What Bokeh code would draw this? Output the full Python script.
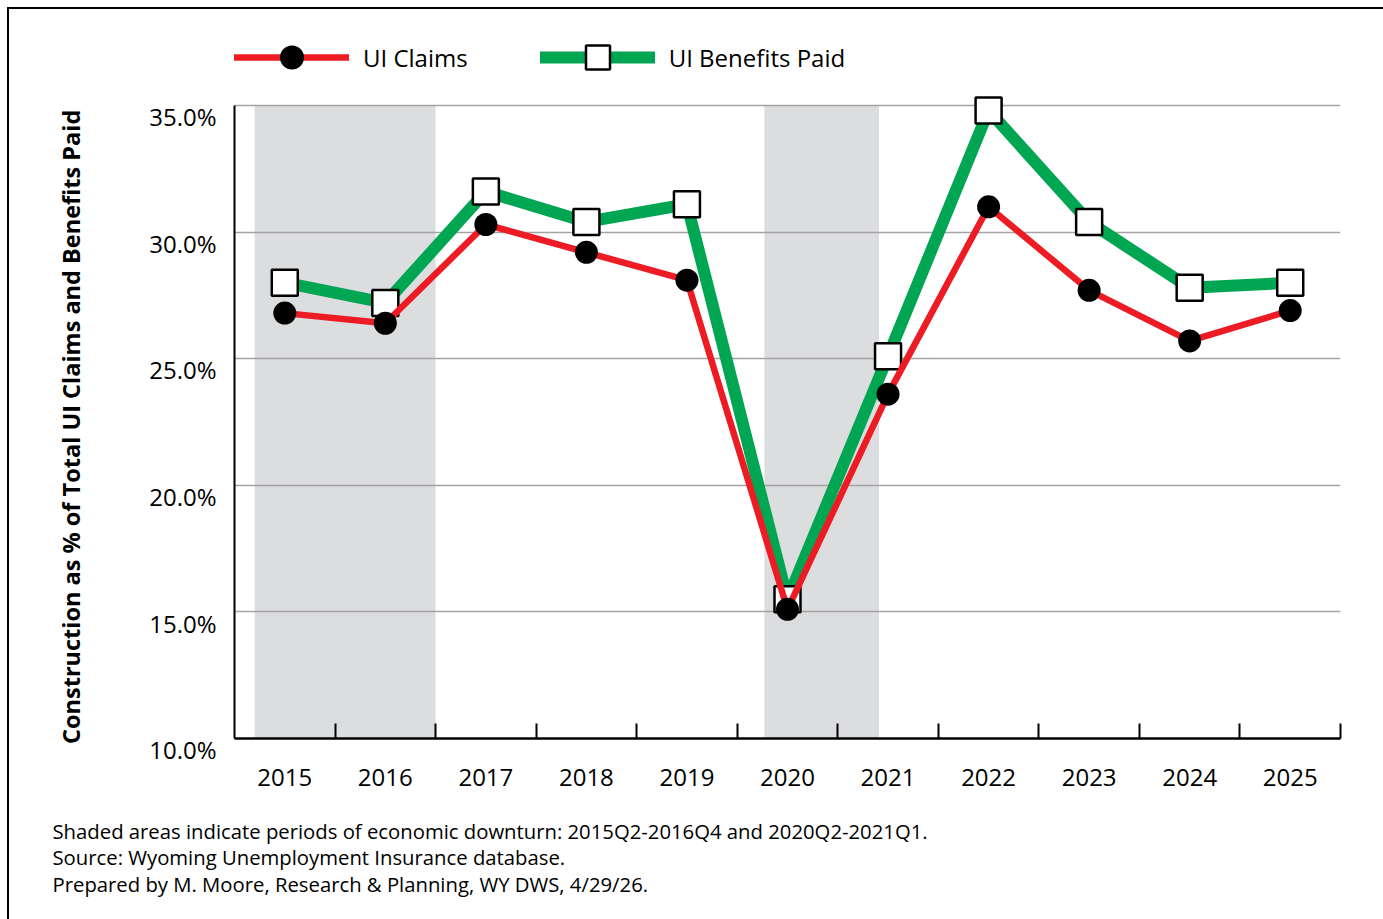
from bokeh.plotting import figure
from bokeh.models import (ColumnDataSource, FixedTicker, Legend, LegendItem, Title, Range1d)
from bokeh.embed import file_html
from bokeh.resources import INLINE

# ---- data ----
years = [2015, 2016, 2017, 2018, 2019, 2020, 2021, 2022, 2023, 2024, 2025]
ui_claims = [26.8, 26.4, 30.3, 29.2, 28.1, 15.1, 23.6, 31.0, 27.7, 25.7, 26.9]
ui_benefits = [28.0, 27.2, 31.6, 30.4, 31.1, 15.5, 25.1, 34.8, 30.4, 27.8, 28.0]
y_ticks = [10, 15, 20, 25, 30, 35]
y_tick_labels = ["10.0%", "15.0%", "20.0%", "25.0%", "30.0%", "35.0%"]
shade_start = [2014.7, 2019.77]
shade_end = [2016.5, 2020.91]
notes = [
    "Shaded areas indicate periods of economic downturn: 2015Q2-2016Q4 and 2020Q2-2021Q1.",
    "Source: Wyoming Unemployment Insurance database.",
    "Prepared by M. Moore, Research & Planning, WY DWS, 4/29/26.",
]
y_title = "Construction as % of Total UI Claims and Benefits Paid"

FONT = "Open Sans"
RED = "#ED1C24"
GREEN = "#00A651"

# the frame reaches up above the 35% line so that the legend sits inside it
p = figure(frame_width=1106, frame_height=721,
           x_range=Range1d(2014.5, 2025.5), y_range=Range1d(10, 38.475),
           output_backend="svg", toolbar_location=None,
           min_border_left=225, min_border_right=43,
           min_border_top=8, min_border_bottom=186)
p.styles = {"border": "2px solid black", "margin-left": "7px", "margin-top": "7px"}
p.outline_line_color = None
p.background_fill_color = "white"
p.border_fill_color = "white"

# shaded downturn periods
p.quad(left=shade_start, right=shade_end, bottom=y_ticks[0], top=y_ticks[-1],
       fill_color="#DCDDDF", line_color=None, level="image")

# grid
p.xgrid.visible = False
p.ygrid.ticker = FixedTicker(ticks=y_ticks)
p.ygrid.grid_line_color = "#A3A3A3"
p.ygrid.grid_line_width = 1.5

src = ColumnDataSource(dict(year=years, claims=ui_claims, benefits=ui_benefits))

g_line = p.line("year", "benefits", source=src, line_color=GREEN, line_width=12,
                line_join="round", line_cap="round")
g_pts = p.scatter("year", "benefits", source=src, marker="square", size=26,
                  fill_color="white", line_color="black", line_width=2.5)
r_line = p.line("year", "claims", source=src, line_color=RED, line_width=6.5,
                line_join="round", line_cap="round")
r_pts = p.scatter("year", "claims", source=src, marker="circle", size=23,
                  fill_color="black", line_color=None)

# x axis
xa = p.xaxis[0]
xa.ticker = FixedTicker(ticks=years, minor_ticks=[y + 0.5 for y in years])
xa.major_label_overrides = {y: str(y) for y in years}
xa.major_tick_in = 0
xa.major_tick_out = 0
xa.minor_tick_in = 15
xa.minor_tick_out = 0
xa.minor_tick_line_width = 2
xa.minor_tick_line_color = "black"
xa.axis_line_width = 2.5
xa.axis_line_color = "black"
xa.major_label_text_font = FONT
xa.major_label_text_font_size = "24px"
xa.major_label_text_color = "black"
xa.major_label_standoff = 30

# y axis (labels sit a little below their gridlines, as in the original)
ya = p.yaxis[0]
ya.ticker = FixedTicker(ticks=y_ticks)
ya.bounds = (y_ticks[0], y_ticks[-1])
ya.major_label_overrides = {t: "\n" + lab for t, lab in zip(y_ticks, y_tick_labels)}
ya.major_label_text_line_height = 0.68
ya.major_tick_in = 0
ya.major_tick_out = 0
ya.minor_tick_in = 0
ya.minor_tick_out = 0
ya.axis_line_width = 2
ya.axis_line_color = "black"
ya.major_label_text_font = FONT
ya.major_label_text_font_size = "24px"
ya.major_label_text_color = "black"
ya.major_label_standoff = 18
# title centred lower than the frame centre, as in the original
ya.axis_label = y_title + "\u00a0" * 16
ya.axis_label_standoff = 59
ya.axis_label_text_font = FONT
ya.axis_label_text_font_style = "bold"
ya.axis_label_text_font_size = "23.5px"
ya.axis_label_text_color = "black"

# legend (inside the upper, empty part of the frame)
legend = Legend(items=[LegendItem(label="UI Claims", renderers=[r_line, r_pts]),
                       LegendItem(label="UI Benefits Paid", renderers=[g_line, g_pts])],
                orientation="horizontal", location=(0, 651),
                glyph_width=115, glyph_height=60, label_standoff=14, spacing=72,
                margin=0, padding=0, border_line_color=None,
                background_fill_alpha=0, label_text_font=FONT,
                label_text_font_size="24px", label_text_color="black")
p.add_layout(legend)

# notes
p.add_layout(Title(text="\n".join(notes), align="left", offset=-182, standoff=53,
                   text_font=FONT, text_font_style="normal", text_font_size="20.3px",
                   text_line_height=0.955, text_color="black"), "below")

open("out.html", "w").write(file_html(p, INLINE))
